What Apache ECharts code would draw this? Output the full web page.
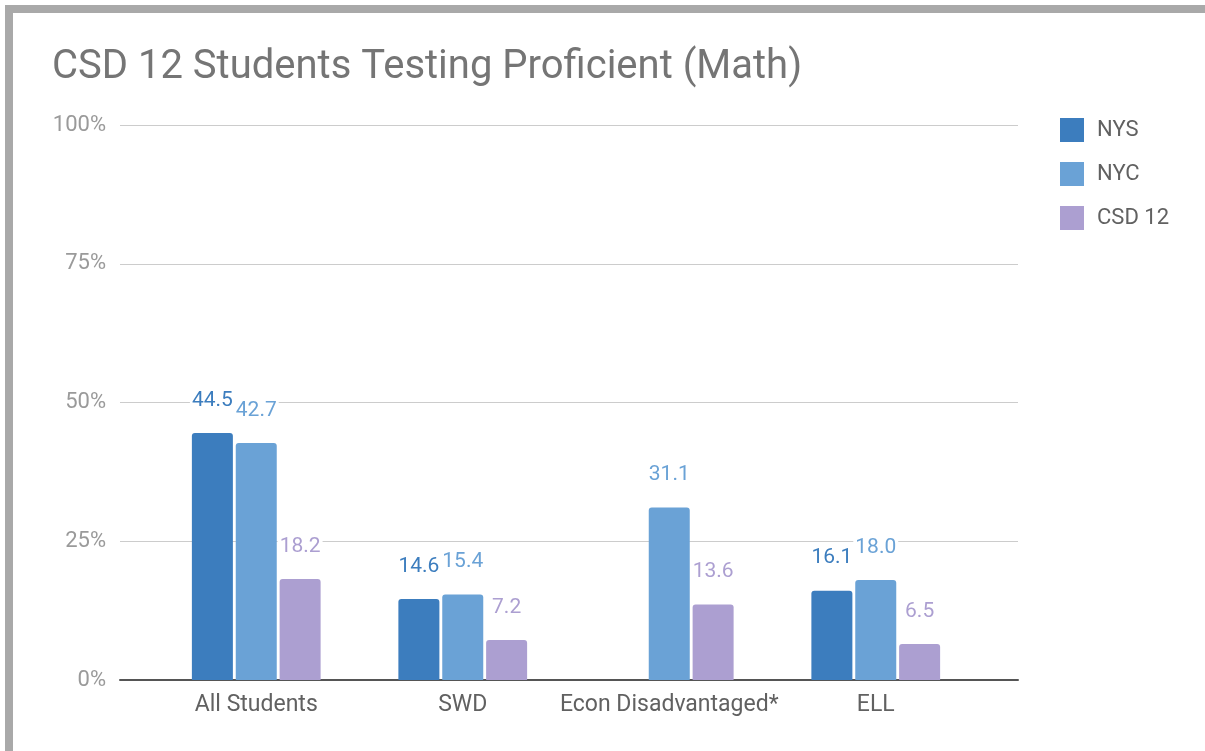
<!DOCTYPE html>
<html>
<head>
<meta charset="utf-8">
<script src="https://cdn.jsdelivr.net/npm/echarts@6/dist/echarts.min.js"></script>
<style>
  html, body { margin: 0; padding: 0; background: #fff; }
  #chart { width: 1205px; height: 751px; }
</style>
</head>
<body>
<div id="chart"></div>
<script>
// data
const categories = ['All Students', 'SWD', 'Econ Disadvantaged*', 'ELL'];
const nys = [44.5, 14.6, null, 16.1];
const nyc = [42.7, 15.4, 31.1, 18.0];
const csd12 = [18.2, 7.2, 13.6, 6.5];
const yTicks = [0, 25, 50, 75, 100];

const colors = {
  nys: '#3c7dbe',
  nyc: '#6aa2d6',
  csd: '#ac9fd1',
};

const font = 'Roboto, "Noto Sans", sans-serif';

const chart = echarts.init(document.getElementById('chart'));

const makeBar = (name, data, color) => ({
  name: name,
  type: 'bar',
  xAxisIndex: 1,
  yAxisIndex: 1,
  data: data,
  barWidth: 41,
  barGap: '7%',
  itemStyle: { color: color, borderRadius: [3, 3, 0, 0] },
  label: {
    show: true,
    position: 'top',
    distance: 22,
    color: color,
    fontFamily: font,
    fontSize: 21,
    backgroundColor: '#fff',
    padding: [0, 2],
    formatter: (p) => (p.value == null ? '' : p.value.toFixed(1)),
  },
});

const option = {
  animation: false,
  textStyle: { fontFamily: font },
  title: {
    text: 'CSD 12 Students Testing Proficient (Math)',
    left: 47,
    top: 43,
    textStyle: { fontSize: 40, fontWeight: 'normal', color: '#757575', fontFamily: font },
  },
  legend: {
    orient: 'vertical',
    left: 1055,
    top: 113,
    icon: 'rect',
    itemWidth: 24,
    itemHeight: 24,
    itemGap: 20,
    textStyle: { fontSize: 22, color: '#616161', padding: [0, 0, 0, 8] },
    data: ['NYS', 'NYC', 'CSD 12'],
  },
  // gray frame on the top and left
  graphic: [
    { type: 'rect', left: 5, top: 5, shape: { width: 1200, height: 8 }, style: { fill: '#a9a9a9' } },
    { type: 'rect', left: 5, top: 5, shape: { width: 8, height: 746 }, style: { fill: '#a9a9a9' } },
  ],
  grid: [
    // gridlines + baseline
    { left: 120, right: 187, top: 125, bottom: 71 },
    // bars
    { left: 153, right: 226, top: 125, bottom: 71 },
  ],
  xAxis: [
    {
      gridIndex: 0,
      type: 'value',
      min: 0,
      max: 1,
      axisLine: { show: true, lineStyle: { color: '#555', width: 2 } },
      axisTick: { show: false },
      axisLabel: { show: false },
      splitLine: { show: false },
    },
    {
      gridIndex: 1,
      type: 'category',
      data: categories,
      axisLine: { show: false },
      axisTick: { show: false },
      axisLabel: { interval: 0, fontSize: 23, color: '#616161', margin: 14, fontFamily: font },
    },
  ],
  yAxis: [
    {
      gridIndex: 0,
      type: 'value',
      min: yTicks[0],
      max: yTicks[yTicks.length - 1],
      interval: 25,
      axisLine: { show: false },
      axisTick: { show: false },
      axisLabel: { formatter: '{value}%', fontSize: 22, color: '#9a9a9a', margin: 14, fontFamily: font },
      splitLine: { lineStyle: { color: '#cccccc', width: 1 } },
    },
    {
      gridIndex: 1,
      type: 'value',
      min: 0,
      max: 100,
      show: false,
      splitLine: { show: false },
    },
  ],
  series: [
    makeBar('NYS', nys, colors.nys),
    makeBar('NYC', nyc, colors.nyc),
    makeBar('CSD 12', csd12, colors.csd),
  ],
};

chart.setOption(option);
</script>
</body>
</html>
